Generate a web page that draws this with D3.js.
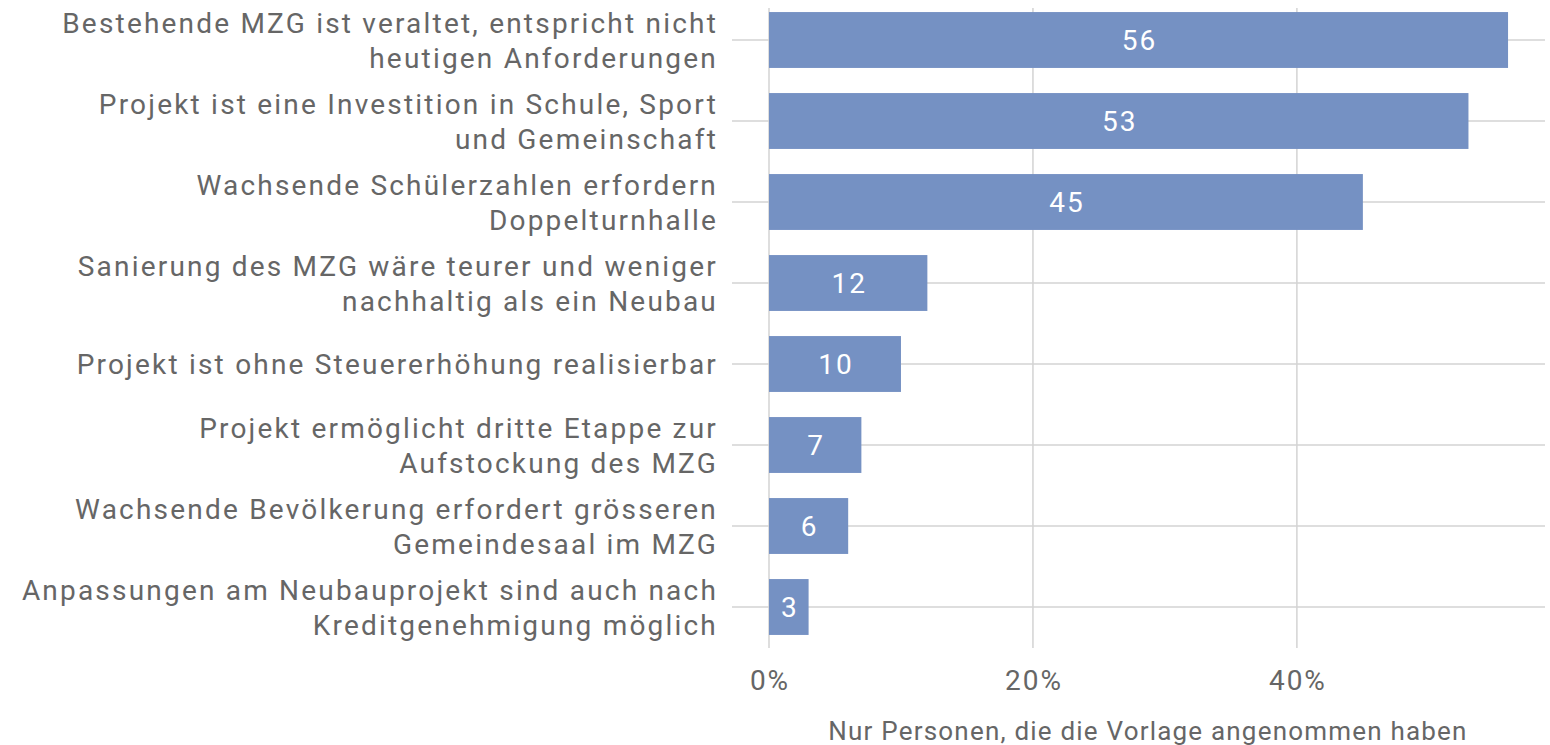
<!DOCTYPE html>
<html>
<head>
<meta charset="utf-8">
<script src="https://cdn.jsdelivr.net/npm/d3@7"></script>
<style>
  body { margin: 0; background: #fff; }
  text { font-family: Roboto, "Liberation Sans", sans-serif; }
</style>
</head>
<body>
<div id="chart"></div>
<script>
// Data
const categories = [
  ["Bestehende MZG ist veraltet, entspricht nicht", "heutigen Anforderungen"],
  ["Projekt ist eine Investition in Schule, Sport", "und Gemeinschaft"],
  ["Wachsende Schülerzahlen erfordern", "Doppelturnhalle"],
  ["Sanierung des MZG wäre teurer und weniger", "nachhaltig als ein Neubau"],
  ["Projekt ist ohne Steuererhöhung realisierbar"],
  ["Projekt ermöglicht dritte Etappe zur", "Aufstockung des MZG"],
  ["Wachsende Bevölkerung erfordert grösseren", "Gemeindesaal im MZG"],
  ["Anpassungen am Neubauprojekt sind auch nach", "Kreditgenehmigung möglich"]
];
const values = [56, 53, 45, 12, 10, 7, 6, 3];
const xTicks = [0, 20, 40];
const axisTitle = "Nur Personen, die die Vorlage angenommen haben";

const width = 1550, height = 745;
const left = 769, right = 1545;
const textColor = "#666666";
const gridColor = "#d3d3d3";
const barColor = "#7591c3";

const svg = d3.select("#chart").append("svg")
  .attr("width", width)
  .attr("height", height);

const x = d3.scaleLinear().domain([0, 58.8]).range([left, right]);
const y = d3.scaleBand()
  .domain(d3.range(categories.length))
  .range([-0.5, 647.5])
  .paddingInner(0.31)
  .paddingOuter(0.155);

// vertical gridlines
svg.append("g")
  .selectAll("line")
  .data(xTicks)
  .join("line")
    .attr("x1", d => x(d)).attr("x2", d => x(d))
    .attr("y1", 8).attr("y2", 648)
    .attr("stroke", gridColor)
    .attr("stroke-width", 1.5);

// horizontal lines at category centers
svg.append("g")
  .selectAll("line")
  .data(d3.range(categories.length))
  .join("line")
    .attr("x1", 732).attr("x2", right)
    .attr("y1", i => y(i) + y.bandwidth() / 2)
    .attr("y2", i => y(i) + y.bandwidth() / 2)
    .attr("stroke", gridColor)
    .attr("stroke-width", 1.5);

// bars
svg.append("g")
  .selectAll("rect")
  .data(values)
  .join("rect")
    .attr("x", x(0))
    .attr("y", (d, i) => y(i))
    .attr("width", d => x(d) - x(0))
    .attr("height", y.bandwidth())
    .attr("fill", barColor);

// value labels
svg.append("g")
  .selectAll("text")
  .data(values)
  .join("text")
    .attr("x", d => (x(0) + x(d)) / 2 + 1)
    .attr("y", (d, i) => y(i) + y.bandwidth() / 2)
    .attr("dy", "0.36em")
    .attr("text-anchor", "middle")
    .attr("fill", "#fff")
    .attr("font-size", 28)
    .attr("letter-spacing", 2)
    .text(d => d);

// category labels
const labels = svg.append("g")
  .selectAll("text")
  .data(categories)
  .join("text")
    .attr("text-anchor", "end")
    .attr("fill", textColor)
    .attr("font-size", 28)
    .attr("letter-spacing", 2.2);

labels.each(function(lines, i) {
  const cy = y(i) + y.bandwidth() / 2;
  const n = lines.length;
  d3.select(this).selectAll("tspan")
    .data(lines)
    .join("tspan")
      .attr("x", 718)
      .attr("y", (l, j) => cy + (j - (n - 1) / 2) * 35)
      .attr("dy", "0.36em")
      .text(l => l);
});

// x axis tick labels
svg.append("g")
  .selectAll("text")
  .data(xTicks)
  .join("text")
    .attr("x", d => x(d) + 1)
    .attr("y", 680)
    .attr("dy", "0.36em")
    .attr("text-anchor", "middle")
    .attr("fill", textColor)
    .attr("font-size", 28)
    .attr("letter-spacing", 2)
    .text(d => d + "%");

// axis title
svg.append("text")
  .attr("x", 1148)
  .attr("y", 731)
  .attr("dy", "0.36em")
  .attr("text-anchor", "middle")
  .attr("fill", textColor)
  .attr("font-size", 26)
  .attr("letter-spacing", 1.2)
  .text(axisTitle);
</script>
</body>
</html>
